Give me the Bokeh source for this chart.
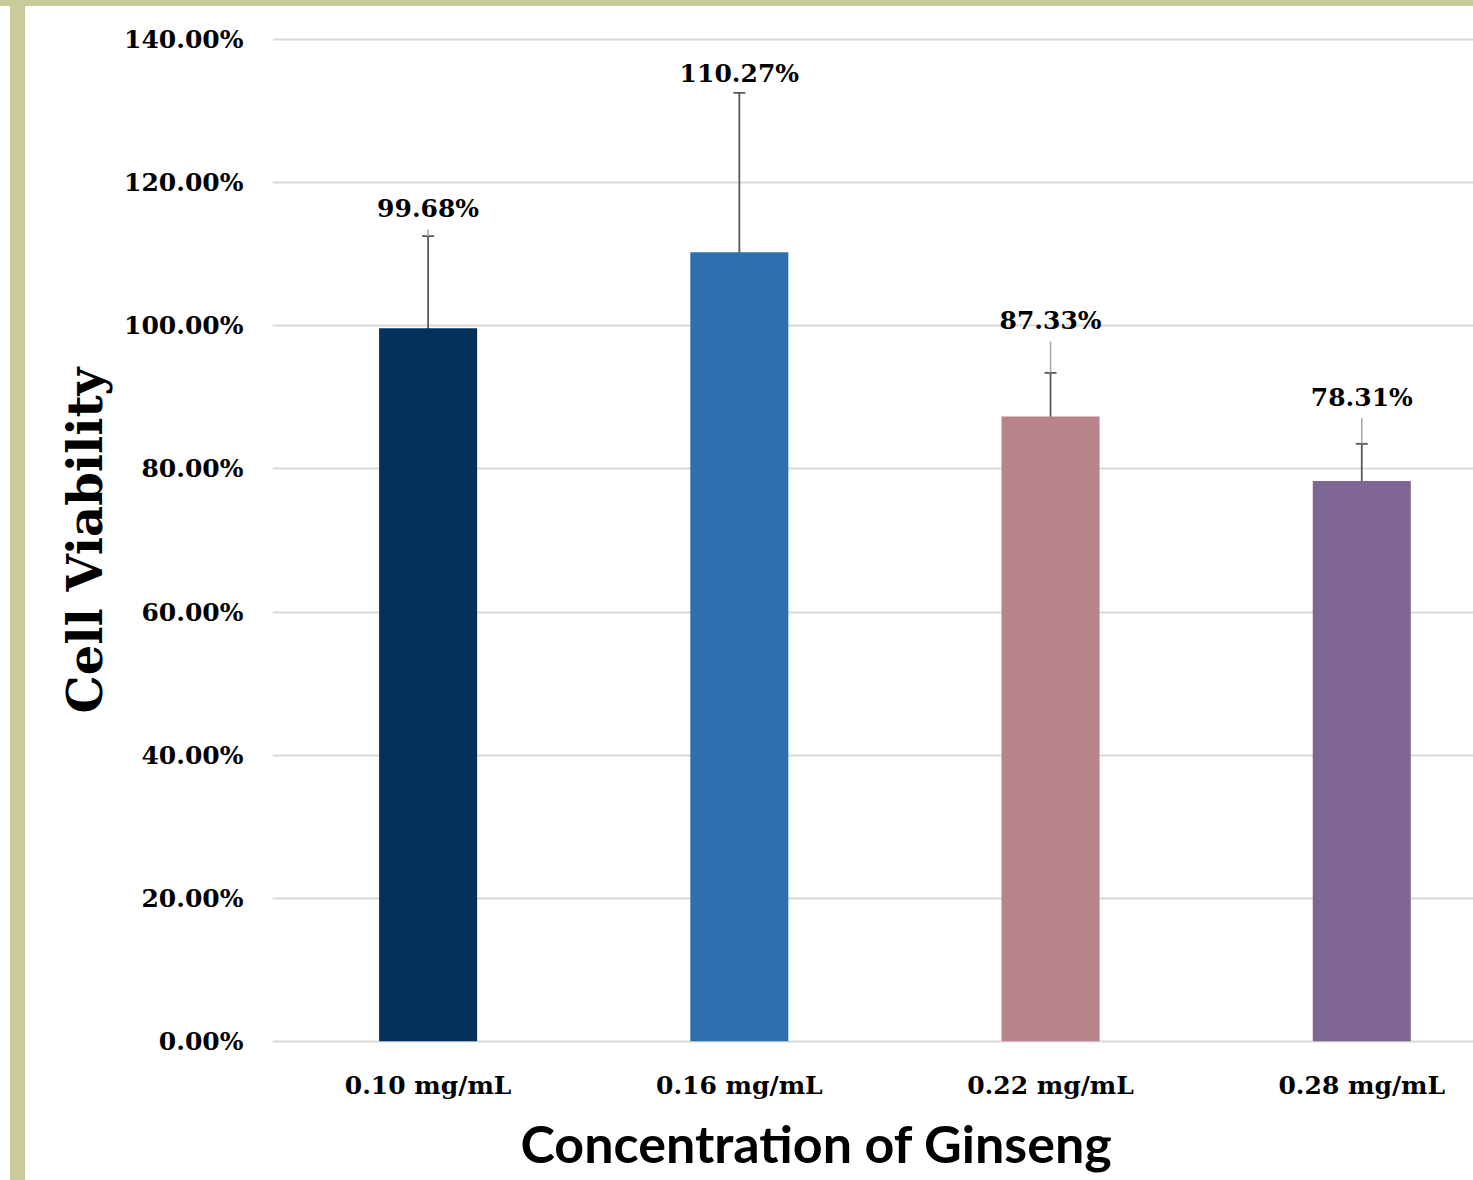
from bokeh.plotting import figure
from bokeh.models import (Range1d, FixedTicker, PrintfTickFormatter, ColumnDataSource,
                          Whisker, TeeHead, Title)
from bokeh.core.properties import value
from bokeh.embed import file_html
from bokeh.resources import INLINE

# ---- data ----
categories = ["0.10 mg/mL", "0.16 mg/mL", "0.22 mg/mL", "0.28 mg/mL"]
viability = [99.68, 110.27, 87.33, 78.31]
error = [12.85, 22.3, 6.1, 5.2]
bar_colors = ["#03315c", "#2e6fad", "#b8838b", "#7f6692"]
label_texts = ["99.68%", "110.27%", "87.33%", "78.31%"]
y_ticks = [0, 20, 40, 60, 80, 100, 120, 140]

# label placement (as positioned in the original chart)
label_pos = [116.4, 135.3, 100.7, 90.0]

xs = list(range(len(categories)))
upper = [v + e for v, e in zip(viability, error)]
lower = [v - e for v, e in zip(viability, error)]

SERIF = "DejaVu Serif"
OLIVE = "#c9cc9a"

p = figure(width=1473, height=1180, output_backend="svg", toolbar_location=None,
           x_range=Range1d(-0.5, 3.359), y_range=Range1d(-0.3, 140.3),
           min_border_left=272, min_border_right=0, min_border_top=37,
           min_border_bottom=137)
p.border_fill_color = None
p.background_fill_color = "white"
p.outline_line_color = None
p.styles = {
    "background": ("linear-gradient(to bottom, %s 0px, %s 6px, transparent 6px), "
                   "linear-gradient(to right, white 0px, white 10px, %s 10px, %s 25px, white 25px)")
                  % (OLIVE, OLIVE, OLIVE, OLIVE)
}

src = ColumnDataSource(dict(x=xs, top=viability, color=bar_colors,
                            upper=upper, lower=lower,
                            lab=label_texts, ly=label_pos))

p.vbar(x="x", top="top", width=0.315, fill_color="color", line_color=None, source=src)

wk = Whisker(base="x", upper="upper", lower="lower", source=src,
             line_color="#595959", line_width=1.8,
             upper_head=TeeHead(size=12, line_color="#595959", line_width=1.8),
             lower_head=TeeHead(size=12, line_color="#595959", line_width=1.8))
p.add_layout(wk)

# leader lines from data labels down to the error bar tops
lx0, ly0, ly1 = [], [], []
for x, ly, up in zip(xs, label_pos, upper):
    bottom = ly - 2.9
    if bottom > up:
        lx0.append(x)
        ly0.append(bottom)
        ly1.append(up)
p.segment(x0=lx0, y0=ly0, x1=lx0, y1=ly1, line_color="#a6a6a6", line_width=1.5)

p.text(x="x", y="ly", text="lab", source=src, text_align="center",
       text_baseline="middle", text_font=value(SERIF), text_font_style="bold",
       text_font_size="25px", text_color="black")

# axes
p.xgrid.visible = False
p.ygrid.grid_line_color = "#d9d9d9"
p.ygrid.grid_line_width = 2
p.ygrid.ticker = FixedTicker(ticks=y_ticks)

p.yaxis.ticker = FixedTicker(ticks=y_ticks)
p.yaxis.formatter = PrintfTickFormatter(format="%.2f%%")
p.yaxis.axis_line_color = None
p.yaxis.major_tick_line_color = None
p.yaxis.minor_tick_line_color = None
p.yaxis.major_label_standoff = 23
p.yaxis.major_label_text_font = SERIF
p.yaxis.major_label_text_font_style = "bold"
p.yaxis.major_label_text_font_size = "25px"
p.yaxis.major_label_text_color = "black"
p.yaxis.axis_label = "Cell Viability"
p.yaxis.axis_label_text_font = SERIF
p.yaxis.axis_label_text_font_style = "bold"
p.yaxis.axis_label_text_font_size = "48px"
p.yaxis.axis_label_text_color = "black"
p.yaxis.axis_label_standoff = 8

p.xaxis.ticker = FixedTicker(ticks=xs)
p.xaxis.major_label_overrides = {i: c for i, c in zip(xs, categories)}
p.xaxis.axis_line_color = None
p.xaxis.major_tick_line_color = None
p.xaxis.minor_tick_line_color = None
p.xaxis.major_label_standoff = 21
p.xaxis.major_label_text_font = SERIF
p.xaxis.major_label_text_font_style = "bold"
p.xaxis.major_label_text_font_size = "25px"
p.xaxis.major_label_text_color = "black"

xtitle = Title(text="Concentration of Ginseng", align="left", offset=248,
               text_font="Lato", text_font_style="bold",
               text_font_size="52px", text_color="black", standoff=14)
p.add_layout(xtitle, "below")

open("out.html", "w").write(file_html(p, INLINE))
